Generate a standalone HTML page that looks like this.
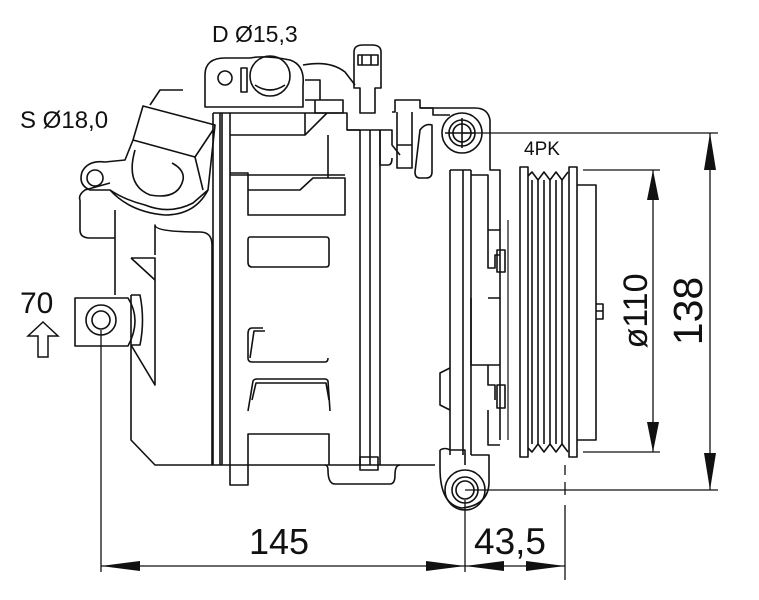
<!DOCTYPE html>
<html><head><meta charset="utf-8"><style>
html,body{margin:0;padding:0;background:#fff}
svg{display:block}
text{font-family:"Liberation Sans",sans-serif;fill:#111}
</style></head><body>
<svg width="759" height="600" viewBox="0 0 759 600" xmlns="http://www.w3.org/2000/svg">
<g fill="none" stroke="#111" stroke-width="1.6" stroke-linejoin="round">
<!-- left housing -->
<path d="M131,295 V440 L155,465 H435"/>
<path d="M80,200 Q78,195 85,190 L110,183 M80,200 V230 Q80,238 90,238 H115 V295"/>
<path d="M115,238 V210"/>
<path d="M131,295 L140,295 Q145,320 140,345 L131,345"/>
<path d="M131,345 L155,385 V258 H131"/>
<path d="M131,258 L155,280"/>
<path d="M155,255 V225 Q155,232 200,232 Q212,232 212,245 V465"/>
<!-- lug -->
<path d="M75,298 H128 Q142,320 128,346 H75 Z"/>
<circle cx="101" cy="320" r="15"/>
<circle cx="101" cy="320" r="9"/>
<!-- suction fitting -->
<path d="M143,106 L215,125 L208,190 L193,203 Q170,215 145,205 Q125,200 110,190 L90,190 Q78,185 82,172 Q88,160 105,162 L125,160 L133,140 Z"/>
<path d="M133,140 L195,157 L213,130"/>
<path d="M195,157 L203,190"/>
<path d="M135,150 Q125,185 150,195 Q178,200 183,180 Q185,170 172,163"/>
<path d="M110,190 Q130,212 165,215 Q195,215 208,190"/>
<circle cx="95" cy="178" r="8"/>
<path d="M150,105 L160,90 L183,90"/>
<!-- discharge fitting -->
<path d="M205,75 Q205,58 225,58 H250 Q265,55 290,60 Q305,65 303,85 V107 H205 Z"/>
<circle cx="270" cy="76" r="20"/>
<path d="M255,85 Q270,95 285,85"/>
<circle cx="225" cy="78" r="7"/>
<path d="M241,68 V92 H247 V68 Z"/>
<path d="M303,65 Q330,60 345,72 L355,85"/>
<path d="M305,80 H320 V100 H305 M315,100 V113 H343 V100 H315"/>
<!-- connector -->
<path d="M354,52 Q354,45 363,45 H372 Q381,45 381,52 V88 H375 V113 H360 V88 H354 Z"/>
<path d="M358,55 H378 V65 H358 Z M362,55 V65 M371,55 V65"/>
<!-- main body -->
<path d="M213,113 V465 M220,113 V465 M222,113 V465 M230,113 V465"/>
<path d="M213,113 H347 V130 H360 M230,135 H305 L327,113"/>
<path d="M305,113 V135"/>
<path d="M230,173 H248 V190 M230,175 H345"/>
<path d="M248,190 H300 L313,178 H345 V215 H248 V190"/>
<path d="M328,135 V178"/>
<path d="M250,237 H326 Q329,237 329,240 V264 Q329,267 326,267 H252 Q248,267 248,262 V240 Q248,237 250,237 Z"/>
<path d="M263,328 H252 Q248,328 248,334 L248,358 Q248,362 252,362 H325 Q328,362 328,358 M265,331 H254 L250,358"/>
<path d="M248,411 L253,381 Q254,379 257,379 H325 Q327,379 328,381 L330,411 M252,400 L256,383 H326 L329,400"/>
<path d="M248,465 V434 H329 V465"/>
<path d="M230,465 V485 H248 V465"/>
<path d="M325,465 Q328,465 328,470 Q328,484 335,484 H390 Q395,484 395,475 Q395,465 400,465"/>
<path d="M360,130 V465 M370,130 V465 M380,130 V465"/>
<path d="M360,457 H378 V470 H360 Z"/>
<path d="M347,130 H392 V145 L400,155 M380,130 V165 H388 Q392,165 392,158"/>
<!-- bracket top -->
<path d="M392,112 H395 V100 H420 V108 L433,108 V115 H450"/>
<path d="M397,112 V168 H412 V112 M397,145 H412"/>
<path d="M420,108 H475 Q488,108 490,120 V170 H500 V440"/>
<path d="M420,130 Q425,123 432,125 V172 Q432,178 426,178 H420 Q415,178 415,172 Z"/>
<circle cx="462" cy="133" r="20"/>
<circle cx="462" cy="133" r="13"/>
<circle cx="462" cy="133" r="9"/>
<path d="M445,133 H475 M462,118 V148"/>
<!-- front plate -->
<path d="M450,170 V455 M463,170 V455 M471,170 V455 M450,170 H471"/>
<path d="M471,175 H488 V230 H500 M488,230 V268 H495 V255 H500"/>
<path d="M450,368 L440,373 V405 L450,410"/>
<path d="M488,298 H500 M471,298 V365 H500 M488,365 V385 H495 V400 M488,410 V445 H500"/>
<path d="M497,250 H505 V272 H497 Z M497,385 H505 V408 H497 Z"/>
<path d="M440,450 Q445,447 450,450 H465 V465"/>
<path d="M440,450 V468 Q440,505 462,508 Q490,505 489,480 V455 H471"/>
<circle cx="465" cy="490" r="20"/>
<circle cx="465" cy="490" r="13"/>
<circle cx="465" cy="490" r="9"/>
<!-- pulley -->
<path d="M520,167 H528 V457 H520 Z M569,167 H577 V457 H569 Z"/>
<path d="M528,176 L532,172 L538,180 L544,172 L550,180 L556,172 L562,180 L568,172 M528,448 L532,452 L538,444 L544,452 L550,444 L556,452 L562,444 L568,452"/>
<path d="M532,180 V444 M538,180 V444 M544,180 V444 M550,180 V444 M556,180 V444 M562,180 V444"/>
<path d="M577,185 H596 V440 H577"/>
<path d="M596,304 H603 V319 H596 M596,311 H603"/>
<path d="M508,220 V440" stroke-width="1.2"/>
</g>
<!-- dimension lines -->
<g stroke="#111" stroke-width="1.3" fill="none">
<path d="M101,330 V572 M465,500 V572"/>
<path d="M565,465 V475 M565,482 V495 M565,505 V580" />
<path d="M101,566 H565"/>
<path d="M462,133 H718 M465,490 H718 M583,170 H660 M583,452 H660"/>
<path d="M710,133 V490 M653,170 V452"/>
</g>
<g fill="#111" stroke="none">
<polygon points="101,566 140,561 140,571"/>
<polygon points="465,566 426,561 426,571"/>
<polygon points="465,566 504,561 504,571"/>
<polygon points="565,566 526,561 526,571"/>
<polygon points="710,133 704,170 716,170"/>
<polygon points="710,490 704,453 716,453"/>
<polygon points="653,170 647,200 659,200"/>
<polygon points="653,452 647,422 659,422"/>
</g>
<!-- arrow 70 -->
<path d="M43,322 L58,336 H48 V357 H38 V336 H28 Z" fill="none" stroke="#111" stroke-width="1.5"/>
<text x="20" y="313" font-size="30">70</text>
<text x="212" y="42" font-size="23">D Ø15,3</text>
<text x="20" y="128" font-size="24">S Ø18,0</text>
<text x="524" y="155" font-size="19">4PK</text>
<text x="249" y="554" font-size="36">145</text>
<text x="474" y="554" font-size="37">43,5</text>
<text transform="translate(702,311) rotate(-90)" text-anchor="middle" font-size="41">138</text>
<text transform="translate(647,311) rotate(-90)" text-anchor="middle" font-size="34">ø110</text>
</svg>
</body></html>
